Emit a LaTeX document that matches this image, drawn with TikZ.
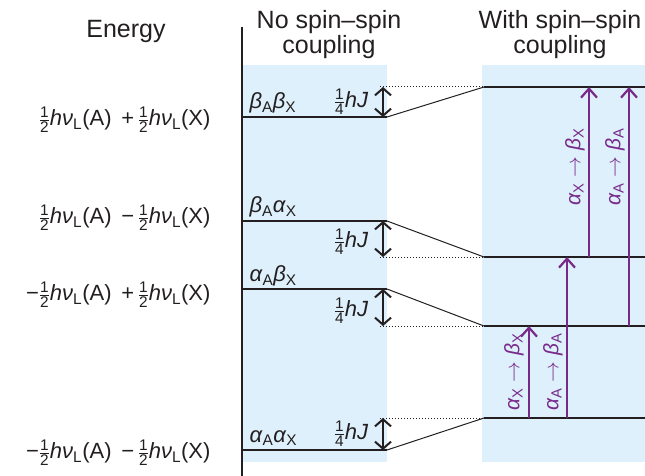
\documentclass[tikz,border=0pt]{standalone}
\usepackage{amsmath}
\usepackage{fontspec}
\setmainfont{Liberation Sans}
\usepackage{tikz}
\usetikzlibrary{arrows.meta}
\usepackage{xcolor}

\definecolor{txt}{RGB}{35,31,32}
\definecolor{panel}{RGB}{222,240,251}
\definecolor{purp}{RGB}{120,42,138}

\newcommand{\hfrac}[2]{\ensuremath{\frac{\text{#1}}{\text{#2}}}}
\newcommand{\lo}[1]{\textsubscript{\upshape #1}}
\newcommand{\nuL}{\hfrac{1}{2}\textit{hν}\lo{L}}
\newcommand{\goes}{\ \ensuremath{\rightarrow}\ }

\begin{document}
\begin{tikzpicture}[x=1pt,y=-1pt,
  every node/.style={text=txt,font=\fontsize{22}{26}\selectfont},
  heading/.style={align=center,font=\fontsize{25}{25}\selectfont},
  energylevel/.style={draw=txt,line width=2.6pt},
  link/.style={draw=txt,line width=1pt},
  gap/.style={draw=txt,dotted,line width=1pt},
  splitarrow/.style={draw=txt,line width=2pt,
    {Straight Barb[length=7pt,width=16pt]}-{Straight Barb[length=7pt,width=16pt]}},
  transarrow/.style={draw=purp,line width=1.1pt,
    -{Straight Barb[length=9pt,width=16pt,line width=2.2pt]}},
  translab/.style={text=purp,rotate=90,font=\fontsize{21}{25}\selectfont}]
  \useasboundingbox (0,0) rectangle (645,476);

  % panels
  \fill[panel] (242,65) rectangle (387,462);
  \fill[panel] (482,65) rectangle (645,462);

  % energy axis
  \draw[txt,line width=1.2pt] (242,27) -- (242,476);

  % headings
  \node[heading] (energy) at (126,31) {Energy};
  \node[heading] (nocoup) at (329,35) {No spin--spin\\coupling};
  \node[heading] (withcoup) at (560,35) {With spin--spin\\coupling};

  % levels without coupling
  \foreach \n/\y in {bb/117,ba/221,ab/289,aa/450}{
    \coordinate (\n0) at (242,\y);
    \coordinate (\n1) at (387,\y);
    \draw[energylevel] (\n0) -- (\n1);
  }

  % levels with coupling
  \foreach \n/\y in {bb/87,ba/257,ab/326,aa/418}{
    \coordinate (\n2) at (484,\y);
    \coordinate (\n3) at (645,\y);
    \coordinate (\n4) at (380,\y);
    \draw[energylevel] (\n2) -- (\n3);
    \draw[gap] (\n4) -- (\n2);
    \draw[link] (\n1) -- (\n2);
  }

  % splittings
  \foreach \n in {bb,ba,ab,aa}{
    \coordinate (\n5) at (383,0 |- \n1);
    \draw[splitarrow] (\n5) -- (\n4 -| \n5);
  }

  % state labels
  \node[anchor=west] (sbb) at (246,103) {\textit{β}\lo{A}\textit{β}\lo{X}};
  \node[anchor=west] (sba) at (246,207) {\textit{β}\lo{A}\textit{α}\lo{X}};
  \node[anchor=west] (sab) at (246,276) {\textit{α}\lo{A}\textit{β}\lo{X}};
  \node[anchor=west] (saa) at (246,438) {\textit{α}\lo{A}\textit{α}\lo{X}};

  % quarter hJ
  \node (jbb) at (351,102) {\hfrac{1}{4}\textit{hJ}};
  \node (jba) at (351,242) {\hfrac{1}{4}\textit{hJ}};
  \node (jab) at (351,311) {\hfrac{1}{4}\textit{hJ}};
  \node (jaa) at (351,434) {\hfrac{1}{4}\textit{hJ}};

  % energies
  \node[anchor=east] (ebb) at (214,120) {\nuL(A) \,+\,\nuL(X)};
  \node[anchor=east] (eba) at (214,218) {\nuL(A) \,−\,\nuL(X)};
  \node[anchor=east] (eab) at (214,295) {−\nuL(A) \,+\,\nuL(X)};
  \node[anchor=east] (eaa) at (214,453) {−\nuL(A) \,−\,\nuL(X)};

  % transitions
  \coordinate (t1) at (589,0);
  \coordinate (t2) at (629,0);
  \coordinate (t3) at (529,0);
  \coordinate (t4) at (567,0);
  \draw[transarrow] (t1 |- ba3) -- (t1 |- bb3);
  \draw[transarrow] (t2 |- ab3) -- (t2 |- bb3);
  \draw[transarrow] (t3 |- aa3) -- (t3 |- ab3);
  \draw[transarrow] (t4 |- aa3) -- (t4 |- ba3);
  \node[translab] (l1) at (575,167) {\textit{α}\lo{X}\goes\textit{β}\lo{X}};
  \node[translab] (l2) at (615,167) {\textit{α}\lo{A}\goes\textit{β}\lo{A}};
  \node[translab] (l3) at (514,372) {\textit{α}\lo{X}\goes\textit{β}\lo{X}};
  \node[translab] (l4) at (553,372) {\textit{α}\lo{A}\goes\textit{β}\lo{A}};
\end{tikzpicture}
\end{document}
